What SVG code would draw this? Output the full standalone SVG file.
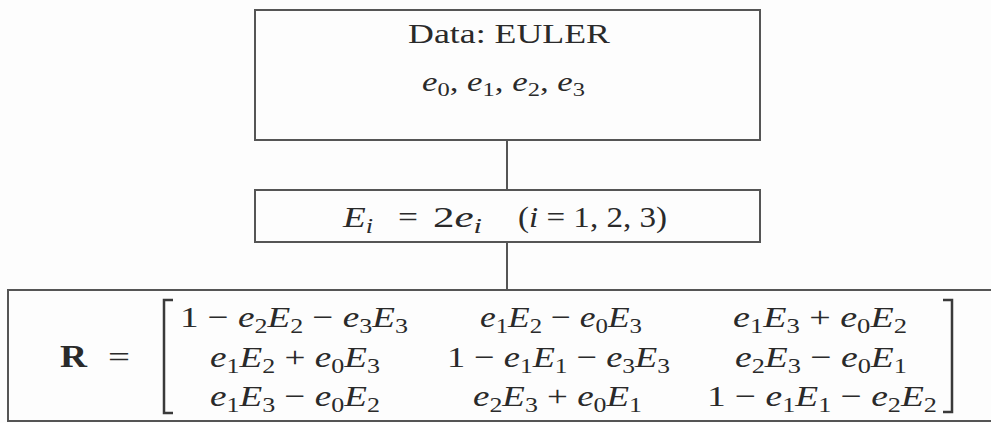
<svg xmlns="http://www.w3.org/2000/svg" width="991" height="423" viewBox="0 0 991 423">
<style>
  .box { fill: none; stroke: #555; stroke-width: 2; }
  .line { stroke: #555; stroke-width: 2; fill: none; }
  .br { stroke: #3a3a3a; stroke-width: 2.5; fill: none; }
  text { font-family: "Liberation Serif", "DejaVu Serif", serif; fill: #2a2a2a; font-size: 30px; }
  .t27 { font-size: 27px; }
  .i { font-style: italic; }
  .s { font-size: 21px; }
  .s19 { font-size: 19px; }
  .b { font-weight: bold; font-size: 32px; }
</style>
<rect x="0" y="0" width="991" height="423" fill="#fdfdfd"/>
<g id="connectors">
  <line class="line" x1="507" y1="140" x2="507" y2="190"/>
  <line class="line" x1="507" y1="242" x2="507" y2="290"/>
</g>
<g id="node-data">
  <rect class="box" x="255" y="10" width="505" height="130"/>
  <text class="t27" x="408" y="43" textLength="202" lengthAdjust="spacingAndGlyphs">Data: EULER</text>
  <text class="t27" x="422" y="91" textLength="163" lengthAdjust="spacingAndGlyphs"><tspan class="i">e</tspan><tspan class="s19" dy="5">0</tspan><tspan dy="-5">, </tspan><tspan class="i">e</tspan><tspan class="s19" dy="5">1</tspan><tspan dy="-5">, </tspan><tspan class="i">e</tspan><tspan class="s19" dy="5">2</tspan><tspan dy="-5">, </tspan><tspan class="i">e</tspan><tspan class="s19" dy="5">3</tspan></text>
</g>
<g id="node-E">
  <rect class="box" x="255" y="190" width="505" height="52"/>
  <text x="343" y="227" textLength="30" lengthAdjust="spacingAndGlyphs"><tspan class="i">E</tspan><tspan class="s i" dy="6">i</tspan></text>
  <text x="398" y="227" textLength="20" lengthAdjust="spacingAndGlyphs">=</text>
  <text x="433" y="227" textLength="49" lengthAdjust="spacingAndGlyphs">2<tspan class="i">e</tspan><tspan class="s i" dy="6">i</tspan></text>
  <text x="518" y="227" textLength="149" lengthAdjust="spacingAndGlyphs">(<tspan class="i">i</tspan> = 1, 2, 3)</text>
</g>
<g id="node-R">
  <rect class="box" x="8" y="290" width="990" height="131"/>
  <text class="b" x="60" y="367" textLength="27" lengthAdjust="spacingAndGlyphs">R</text>
  <text x="108" y="367" textLength="22" lengthAdjust="spacingAndGlyphs">=</text>
  <path class="br" d="M173,300 H164 V413 H173"/>
  <path class="br" d="M943,300 H952 V412 H943"/>
  <text x="180" y="327" textLength="228" lengthAdjust="spacingAndGlyphs">1 − <tspan class="i">e</tspan><tspan class="s" dy="6">2</tspan><tspan class="i" dy="-6">E</tspan><tspan class="s" dy="6">2</tspan><tspan dy="-6"> − </tspan><tspan class="i">e</tspan><tspan class="s" dy="6">3</tspan><tspan class="i" dy="-6">E</tspan><tspan class="s" dy="6">3</tspan></text>
  <text x="480" y="327" textLength="162" lengthAdjust="spacingAndGlyphs"><tspan class="i">e</tspan><tspan class="s" dy="6">1</tspan><tspan class="i" dy="-6">E</tspan><tspan class="s" dy="6">2</tspan><tspan dy="-6"> − </tspan><tspan class="i">e</tspan><tspan class="s" dy="6">0</tspan><tspan class="i" dy="-6">E</tspan><tspan class="s" dy="6">3</tspan></text>
  <text x="733" y="327" textLength="174" lengthAdjust="spacingAndGlyphs"><tspan class="i">e</tspan><tspan class="s" dy="6">1</tspan><tspan class="i" dy="-6">E</tspan><tspan class="s" dy="6">3</tspan><tspan dy="-6"> + </tspan><tspan class="i">e</tspan><tspan class="s" dy="6">0</tspan><tspan class="i" dy="-6">E</tspan><tspan class="s" dy="6">2</tspan></text>
  <text x="210" y="367" textLength="170" lengthAdjust="spacingAndGlyphs"><tspan class="i">e</tspan><tspan class="s" dy="6">1</tspan><tspan class="i" dy="-6">E</tspan><tspan class="s" dy="6">2</tspan><tspan dy="-6"> + </tspan><tspan class="i">e</tspan><tspan class="s" dy="6">0</tspan><tspan class="i" dy="-6">E</tspan><tspan class="s" dy="6">3</tspan></text>
  <text x="447" y="367" textLength="223" lengthAdjust="spacingAndGlyphs">1 − <tspan class="i">e</tspan><tspan class="s" dy="6">1</tspan><tspan class="i" dy="-6">E</tspan><tspan class="s" dy="6">1</tspan><tspan dy="-6"> − </tspan><tspan class="i">e</tspan><tspan class="s" dy="6">3</tspan><tspan class="i" dy="-6">E</tspan><tspan class="s" dy="6">3</tspan></text>
  <text x="735" y="367" textLength="172" lengthAdjust="spacingAndGlyphs"><tspan class="i">e</tspan><tspan class="s" dy="6">2</tspan><tspan class="i" dy="-6">E</tspan><tspan class="s" dy="6">3</tspan><tspan dy="-6"> − </tspan><tspan class="i">e</tspan><tspan class="s" dy="6">0</tspan><tspan class="i" dy="-6">E</tspan><tspan class="s" dy="6">1</tspan></text>
  <text x="210" y="406" textLength="170" lengthAdjust="spacingAndGlyphs"><tspan class="i">e</tspan><tspan class="s" dy="6">1</tspan><tspan class="i" dy="-6">E</tspan><tspan class="s" dy="6">3</tspan><tspan dy="-6"> − </tspan><tspan class="i">e</tspan><tspan class="s" dy="6">0</tspan><tspan class="i" dy="-6">E</tspan><tspan class="s" dy="6">2</tspan></text>
  <text x="473" y="406" textLength="169" lengthAdjust="spacingAndGlyphs"><tspan class="i">e</tspan><tspan class="s" dy="6">2</tspan><tspan class="i" dy="-6">E</tspan><tspan class="s" dy="6">3</tspan><tspan dy="-6"> + </tspan><tspan class="i">e</tspan><tspan class="s" dy="6">0</tspan><tspan class="i" dy="-6">E</tspan><tspan class="s" dy="6">1</tspan></text>
  <text x="707" y="406" textLength="230" lengthAdjust="spacingAndGlyphs">1 − <tspan class="i">e</tspan><tspan class="s" dy="6">1</tspan><tspan class="i" dy="-6">E</tspan><tspan class="s" dy="6">1</tspan><tspan dy="-6"> − </tspan><tspan class="i">e</tspan><tspan class="s" dy="6">2</tspan><tspan class="i" dy="-6">E</tspan><tspan class="s" dy="6">2</tspan></text>
</g>
</svg>
